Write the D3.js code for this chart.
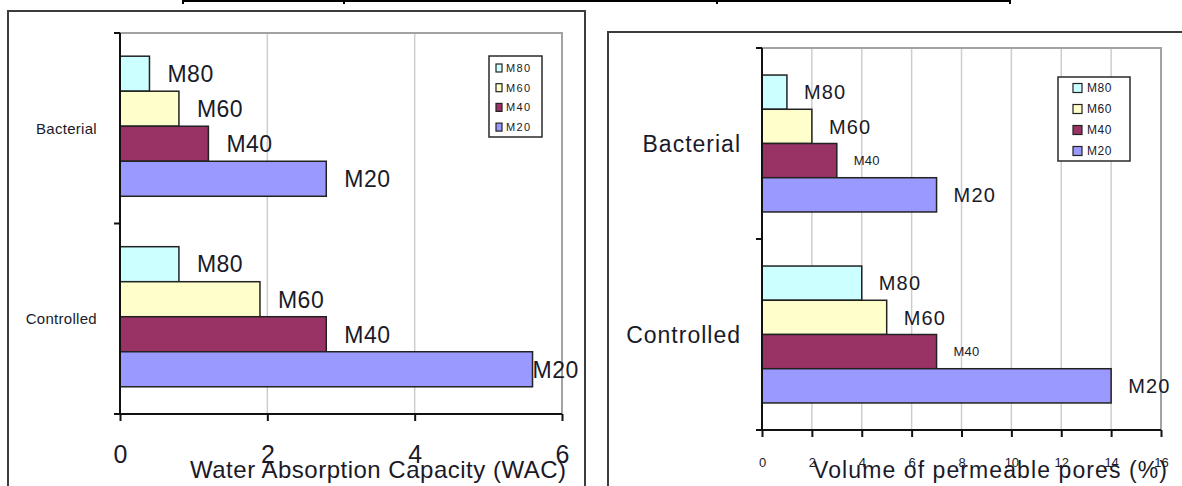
<!DOCTYPE html>
<html>
<head>
<meta charset="utf-8">
<script src="https://cdn.jsdelivr.net/npm/d3@7"></script>
<style>
  html, body { margin: 0; padding: 0; background: #fff; }
  svg { display: block; font-family: Arial, "Liberation Sans", sans-serif; }
</style>
</head>
<body>
<svg id="chart" width="1182" height="486"></svg>
<script>
// Categories and series (bars run top to bottom in series order)
const categories = ["Bacterial", "Controlled"];
const series = ["M80", "M60", "M40", "M20"];

// Water absorption capacity, one value per series
const wacBacterial = [0.4, 0.8, 1.2, 2.8];
const wacControlled = [0.8, 1.9, 2.8, 5.6];

// Volume of permeable pores (%), one value per series
const vppBacterial = [1, 2, 3, 7];
const vppControlled = [4, 5, 7, 14];

// Axis tick labels
const wacTicks = [0, 2, 4, 6];
const vppTicks = [0, 2, 4, 6, 8, 10, 12, 14, 16];

const seriesColors = ["#CCFFFF", "#FFFFCC", "#993366", "#9999FF"];
const inkColor = "#1a1a28";

const svg = d3.select("#chart");

// Table rule running along the top edge
const topRuleX = [183, 344, 717, 1010];
svg.append("line")
  .attr("x1", topRuleX[0]).attr("x2", topRuleX[topRuleX.length - 1])
  .attr("y1", 1).attr("y2", 1)
  .attr("stroke", "#000").attr("stroke-width", 2);
svg.selectAll("line.cellEdge").data(topRuleX).join("line")
  .attr("class", "cellEdge")
  .attr("x1", d => d).attr("x2", d => d)
  .attr("y1", 0).attr("y2", 4)
  .attr("stroke", "#000").attr("stroke-width", 2);

function drawChart(cfg) {
  const g = svg.append("g");

  // Chart frame
  g.append("rect")
    .attr("x", cfg.frame[0]).attr("y", cfg.frame[1])
    .attr("width", cfg.frame[2]).attr("height", cfg.frame[3])
    .attr("fill", "#fff").attr("stroke", "#3c3c3c").attr("stroke-width", 2);

  const x = d3.scaleLinear().domain(cfg.domain).range(cfg.xRange);
  const yCat = d3.scaleBand().domain(categories).range(cfg.yRange).padding(0);
  const ySer = d3.scaleBand().domain(series)
    .range([0, yCat.bandwidth()]).paddingInner(0).paddingOuter(cfg.outerPad)
    .align(cfg.align);

  const top = cfg.yRange[0], bottom = cfg.yRange[1];
  const left = cfg.xRange[0], right = cfg.xRange[1];

  // Vertical gridlines
  g.selectAll("line.grid").data(cfg.ticks.filter(t => t > 0)).join("line")
    .attr("class", "grid")
    .attr("x1", d => x(d)).attr("x2", d => x(d))
    .attr("y1", top).attr("y2", bottom)
    .attr("stroke", "#cdcdcd").attr("stroke-width", 1.5);

  // Plot area border (top and right edges)
  g.append("path")
    .attr("d", `M${left},${top}H${right}V${bottom}`)
    .attr("fill", "none").attr("stroke", "#a2a2a2").attr("stroke-width", 2);

  // Bars
  const rows = [];
  categories.forEach((c, ci) => {
    series.forEach((s, si) => {
      rows.push({ cat: c, ser: s, si, value: cfg.values[ci][si] });
    });
  });

  g.selectAll("rect.bar").data(rows).join("rect")
    .attr("class", "bar")
    .attr("x", x(0))
    .attr("y", d => yCat(d.cat) + ySer(d.ser))
    .attr("width", d => x(d.value) - x(0))
    .attr("height", ySer.bandwidth())
    .attr("fill", d => seriesColors[d.si])
    .attr("stroke", "#222").attr("stroke-width", 1.5);

  // Series labels beside each bar
  const labels = g.selectAll("text.barLabel").data(rows).join("text")
    .attr("class", "barLabel")
    .attr("y", d => yCat(d.cat) + ySer(d.ser) + ySer.bandwidth() / 2)
    .attr("dy", "0.36em")
    .attr("font-size", d => cfg.labelSize[d.si])
    .attr("letter-spacing", d => cfg.labelSpacing[d.si])
    .attr("fill", inkColor)
    .text(d => d.ser);
  labels.each(function(d) {
    const w = this.getComputedTextLength();
    let lx = x(d.value) + cfg.labelGap;
    const limit = right + cfg.labelOverhang;
    if (lx + w > limit) lx = Math.max(x(d.value), limit - w);
    d3.select(this).attr("x", lx);
  });

  // Category axis line with boundary ticks
  g.append("line")
    .attr("x1", left).attr("x2", left)
    .attr("y1", top).attr("y2", bottom)
    .attr("stroke", "#111").attr("stroke-width", 2);
  const bounds = categories.map(c => yCat(c)).concat([bottom]);
  g.selectAll("line.catTick").data(bounds).join("line")
    .attr("class", "catTick")
    .attr("x1", left - 6).attr("x2", left)
    .attr("y1", d => d).attr("y2", d => d)
    .attr("stroke", "#111").attr("stroke-width", 2);

  // Category labels
  g.selectAll("text.cat").data(categories).join("text")
    .attr("class", "cat")
    .attr("x", cfg.catRight)
    .attr("y", d => yCat(d) + yCat.bandwidth() / 2)
    .attr("dy", "0.36em")
    .attr("text-anchor", "end")
    .attr("font-size", cfg.catSize)
    .attr("letter-spacing", cfg.catSpacing)
    .attr("fill", inkColor)
    .text(d => d);

  // Value axis
  const xAxis = d3.axisBottom(x).tickValues(cfg.ticks).tickSize(7).tickSizeOuter(0)
    .tickFormat(d3.format("d"));
  const ax = g.append("g").attr("transform", `translate(0,${bottom})`).call(xAxis);
  ax.select(".domain").remove();
  ax.selectAll(".tick line").attr("stroke", "#111").attr("stroke-width", 2);
  ax.selectAll(".tick text")
    .attr("y", cfg.tickBaseline - bottom).attr("dy", 0)
    .attr("font-size", cfg.tickSize)
    .attr("font-family", "Arial, 'Liberation Sans', sans-serif")
    .attr("fill", inkColor);
  g.append("line")
    .attr("x1", left - 6).attr("x2", right)
    .attr("y1", bottom).attr("y2", bottom)
    .attr("stroke", "#111").attr("stroke-width", 2);

  // Axis title
  g.append("text")
    .attr("x", cfg.titleX).attr("y", cfg.titleBaseline)
    .attr("text-anchor", "middle")
    .attr("font-size", cfg.titleSize)
    .attr("textLength", cfg.titleWidth).attr("lengthAdjust", "spacing")
    .attr("fill", inkColor)
    .text(cfg.title);

  // Legend
  const L = cfg.legend;
  g.append("rect")
    .attr("x", L.x).attr("y", L.y).attr("width", L.w).attr("height", L.h)
    .attr("fill", "#fff").attr("stroke", "#2a2a2a").attr("stroke-width", 1.5);
  const items = g.selectAll("g.legendItem").data(series).join("g")
    .attr("class", "legendItem")
    .attr("transform", (d, i) => `translate(${L.x},${L.row0 + i * L.step})`);
  items.append("rect")
    .attr("x", L.swX).attr("y", -L.swH / 2)
    .attr("width", L.swW).attr("height", L.swH)
    .attr("fill", (d, i) => seriesColors[i])
    .attr("stroke", "#222").attr("stroke-width", 1.2);
  items.append("text")
    .attr("x", L.textX).attr("dy", "0.36em")
    .attr("font-size", L.font)
    .attr("letter-spacing", L.spacing)
    .attr("fill", inkColor)
    .text(d => d);
}

drawChart({
  frame: [8, 11, 577, 500],
  domain: [0, 6],
  xRange: [120, 562],
  yRange: [33, 414],
  outerPad: 0.72,
  align: 0.46,
  values: [wacBacterial, wacControlled],
  ticks: wacTicks,
  labelSize: [23, 23, 23, 23],
  labelSpacing: [0.5, 0.5, 0.5, 0.5],
  labelGap: 18,
  labelOverhang: 16,
  catRight: 97,
  catSize: 15,
  catSpacing: 0.3,
  tickSize: 25,
  tickBaseline: 463,
  title: "Water Absorption Capacity (WAC)",
  titleSize: 24,
  titleX: 378,
  titleBaseline: 478,
  titleWidth: 376,
  legend: { x: 489, y: 56, w: 53, h: 81, row0: 68, step: 19.7,
            swX: 7, swW: 6, swH: 8, textX: 17, font: 11, spacing: 1.4 }
});

drawChart({
  frame: [608, 32, 600, 500],
  domain: [0, 16],
  xRange: [762, 1161],
  yRange: [48, 430],
  outerPad: 0.79,
  align: 0.5,
  values: [vppBacterial, vppControlled],
  ticks: vppTicks,
  labelSize: [20, 20, 13, 20],
  labelSpacing: [1.2, 1.2, 0.2, 1.2],
  labelGap: 17,
  labelOverhang: 16,
  catRight: 741,
  catSize: 23,
  catSpacing: 1,
  tickSize: 13,
  tickBaseline: 467,
  title: "Volume of permeable pores (%)",
  titleSize: 23,
  titleX: 990,
  titleBaseline: 478,
  titleWidth: 354,
  legend: { x: 1058, y: 77, w: 72, h: 84, row0: 88, step: 21,
            swX: 15, swW: 9, swH: 9, textX: 29, font: 12, spacing: 0.6 }
});
</script>
</body>
</html>
